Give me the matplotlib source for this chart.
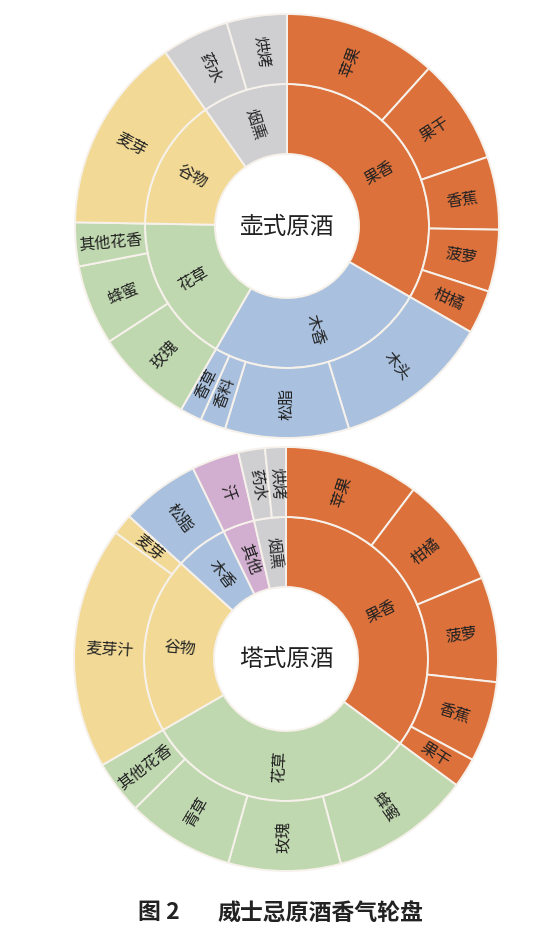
import numpy as np
import matplotlib
matplotlib.use("Agg")
import matplotlib.pyplot as plt

plt.rcParams["font.family"] = ["Noto Sans CJK SC", "DejaVu Sans"]

# -------------------------
# Data (values read off the wheel, in degrees of arc)
# -------------------------

pot_inner_labels = ["果香", "木香", "花草", "谷物", "烟熏"]
pot_inner_values = [120, 90, 61, 54, 35]
pot_outer_labels = ["苹果", "果干", "香蕉", "菠萝", "柑橘",
                    "木头", "松脂", "香料", "香草",
                    "玫瑰", "蜂蜜", "其他花香",
                    "麦芽",
                    "药水", "烘烤"]
pot_outer_values = [42, 29, 20, 17, 12,
                    43, 34, 7, 6,
                    27, 22, 12,
                    54,
                    18.5, 16.5]
pot_outer_groups = [0, 0, 0, 0, 0, 1, 1, 1, 1, 2, 2, 2, 3, 4, 4]

col_inner_labels = ["果香", "花草", "谷物", "木香", "其他", "烟熏"]
col_inner_values = [126.5, 113.5, 72.3, 21.7, 13, 13]
col_outer_labels = ["苹果", "柑橘", "菠萝", "香蕉", "果干",
                    "蜂蜜", "玫瑰", "青草", "其他花香",
                    "麦芽汁", "麦芽",
                    "松脂",
                    "汗",
                    "药水", "烘烤"]
col_outer_values = [37, 30.5, 28.8, 22.1, 8.1,
                    38.5, 30.8, 29.5, 14.7,
                    66.6, 5.7,
                    21.7,
                    13,
                    7.3, 5.7]
col_outer_groups = [0, 0, 0, 0, 0, 1, 1, 1, 1, 2, 2, 3, 4, 5, 5]

# -------------------------
# Style
# -------------------------

CAT_COLORS = {
    "果香": "#DD713C",
    "木香": "#A9C1DE",
    "花草": "#C0D8B0",
    "谷物": "#F2DA96",
    "烟熏": "#CFCFD2",
    "其他": "#D2AFD0",
}
EDGE = "#F6F1EA"
TEXT = "#222222"

W, H = 539, 929
R_OUT, R_MID, R_HOLE = 212, 142, 72


def radial_labels(ax, wedges, labels, r, size):
    for w, lab in zip(wedges, labels):
        mid = np.deg2rad((w.theta1 + w.theta2) / 2)
        x, y = r * np.cos(mid), r * np.sin(mid)
        rot = np.rad2deg(mid)
        if x < 0:
            rot += 180
        rot = (rot + 180) % 360 - 180
        ax.text(x, y, lab, rotation=rot, rotation_mode="anchor",
                ha="center", va="center", fontsize=size, color=TEXT)


def sunburst(cx, cy, title, in_labels, in_values, out_labels, out_values, out_groups):
    half = 216
    ax = fig.add_axes([(cx - half) / W, (H - cy - half) / H, 2 * half / W, 2 * half / H])
    ax.axis("off")

    wp = dict(edgecolor=EDGE, linewidth=1.4)
    in_colors = [CAT_COLORS[l] for l in in_labels]
    out_colors = [in_colors[g] for g in out_groups]

    w_in, _ = ax.pie(in_values, radius=R_MID, startangle=90, counterclock=False,
                     colors=in_colors, wedgeprops=dict(width=R_MID - R_HOLE, **wp))
    w_out, _ = ax.pie(out_values, radius=R_OUT, startangle=90, counterclock=False,
                      colors=out_colors, wedgeprops=dict(width=R_OUT - R_MID, **wp))
    ax.set_xlim(-half, half)
    ax.set_ylim(-half, half)
    ax.set_aspect("auto")

    radial_labels(ax, w_in, in_labels, (R_MID + R_HOLE) / 2, 11.5)
    radial_labels(ax, w_out, out_labels, (R_OUT + R_MID) / 2, 11.5)
    ax.text(0, 0, title, ha="center", va="center", fontsize=17, color=TEXT)


fig = plt.figure(figsize=(W / 100, H / 100), dpi=100)
fig.patch.set_facecolor("white")

sunburst(287, 227, "壶式原酒", pot_inner_labels, pot_inner_values,
         pot_outer_labels, pot_outer_values, pot_outer_groups)
sunburst(286, 660, "塔式原酒", col_inner_labels, col_inner_values,
         col_outer_labels, col_outer_values, col_outer_groups)

fig.text(138 / W, 1 - 913 / H, "图 2", ha="left", va="center",
         fontsize=16.5, fontweight="bold", color=TEXT)
fig.text(217 / W, 1 - 913 / H, "威士忌原酒香气轮盘", ha="left", va="center",
         fontsize=16.5, fontweight="bold", color=TEXT)

fig.savefig("out.png", dpi=100, facecolor="white")
